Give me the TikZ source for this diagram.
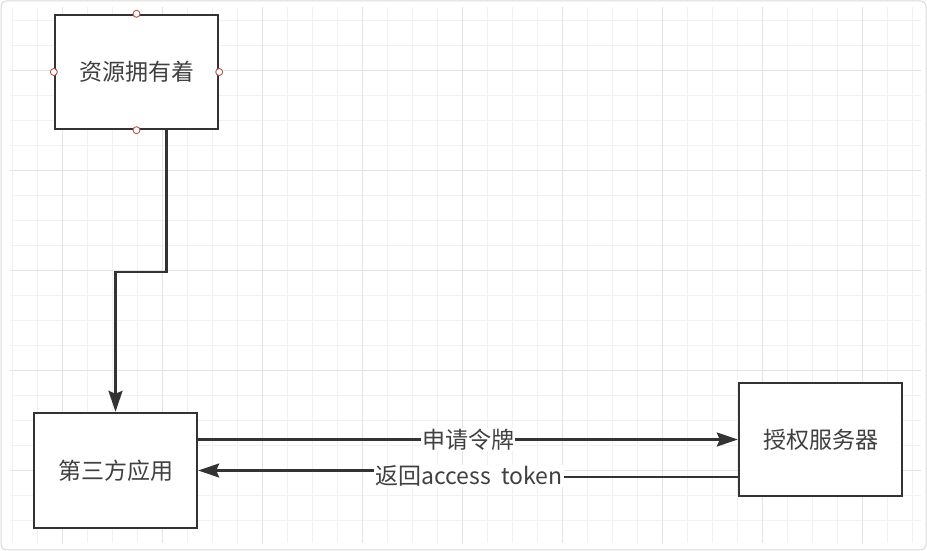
\documentclass[tikz,border=0pt]{standalone}
\usepackage{fontspec}
\setmainfont{Noto Sans CJK SC}
\usetikzlibrary{arrows.meta}
\definecolor{rand}{HTML}{333333}
\definecolor{gitter}{HTML}{F1F1F1}
\definecolor{gitterdunkel}{HTML}{E4E4E4}
\definecolor{punkt}{HTML}{B85450}
\tikzset{
    kasten/.style={draw=rand, line width=2.4pt, fill=white, minimum width=163pt, minimum height=114pt, inner sep=0pt, text=black!75, font=\fontsize{23}{27}\selectfont},
    linie/.style={draw=rand, line width=2.4pt},
    pfeil/.style={linie, -{Stealth[length=21pt,width=14pt,inset=3pt]}},
    beschr/.style={fill=white, inner sep=1pt, text=black!75, font=\fontsize{23}{27}\selectfont},
    anker/.style={circle, draw=punkt, fill=white, line width=0.9pt, minimum size=7pt, inner sep=0pt}
}

\begin{document}
\begin{tikzpicture}[x=1pt, y=1pt]

\useasboundingbox (0,0) rectangle (927,551);

% Rahmen
\draw[black!15, line width=1pt, rounded corners=5pt] (1,1) rectangle (926,550);

% Gitter
\foreach \x in {12,37,...,912}
    \draw[gitter, line width=1pt] (\x,8) -- (\x,544);
\foreach \y in {30,55,...,530}
    \draw[gitter, line width=1pt] (10,\y) -- (921,\y);
\foreach \x in {62,162,...,862}
    \draw[gitterdunkel, line width=1pt] (\x,8) -- (\x,544);
\foreach \y in {80,180,...,480}
    \draw[gitterdunkel, line width=1pt] (10,\y) -- (921,\y);

% Kaesten
\node[kasten] (owner) at (136.5,479) {资源拥有着};
\node[kasten, minimum height=115pt] (client) at (115.5,80.5) {第三方应用};
\node[kasten, minimum height=113pt] (authsrv) at (820.5,111.5) {授权服务器};

% Ankerpunkte
\foreach \a in {north,south,east,west}
    \node[anker] (owner-\a) at (owner.\a) {};

% Ressourcenbesitzer -> Anwendung
\draw[pfeil] ([xshift=30pt]owner.south) -- ++(0,-142) -| (client.north);

% Token anfordern
\draw[pfeil] (client.east |- authsrv.west) -- node[beschr] (req) {申请令牌} (authsrv.west);

% Token zurueck
\coordinate (r1) at ([yshift=-37.5pt]authsrv.west);
\draw[pfeil] (r1) -- ++(-271,0) |- (client.east);
\node[beschr] (ret) at (469,75) {返回access\ \ token};

\end{tikzpicture}
\end{document}
